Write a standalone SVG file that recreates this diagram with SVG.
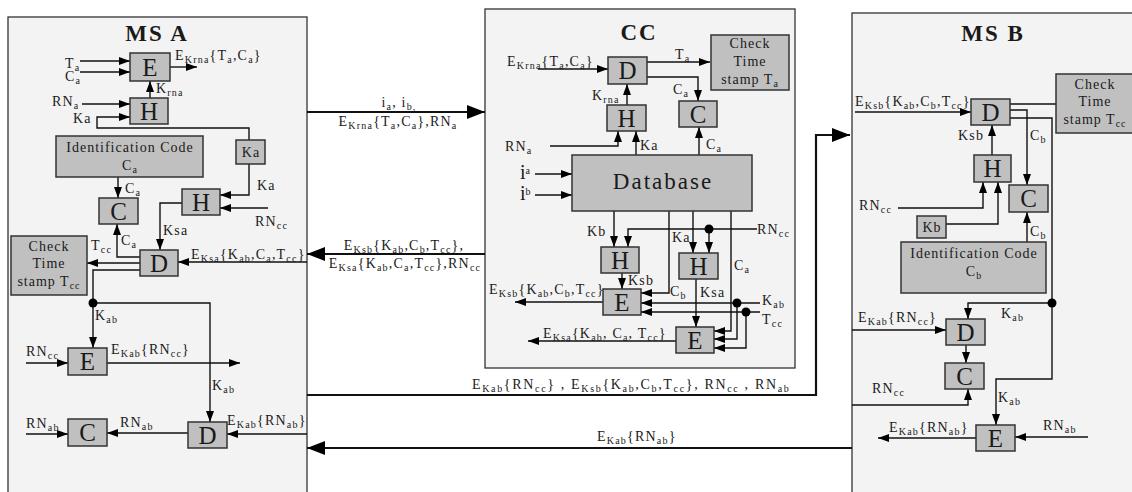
<svg xmlns="http://www.w3.org/2000/svg" width="1132" height="492" viewBox="0 0 1132 492">
<style>
text{font-family:"Liberation Serif","Times New Roman",serif;fill:#1a1a1a}
.l{font-size:14px;letter-spacing:1.2px}
.s{font-size:10px}
.bx{fill:#c0c0c0;stroke:#333;stroke-width:1.5}
.pn{fill:#f3f3f3;stroke:#333;stroke-width:1.3}
.big{font-size:25px;text-anchor:middle}
.ttl{font-size:23px;font-weight:bold;text-anchor:middle;letter-spacing:2px}
.bl{font-size:14px;letter-spacing:1px;text-anchor:middle}
.c{fill:none;stroke:#111;stroke-width:1.4}
.ca{fill:none;stroke:#111;stroke-width:1.4;marker-end:url(#ah)}
.m{fill:none;stroke:#111;stroke-width:2.2;marker-end:url(#bh)}
.mid{text-anchor:middle}
.dot{fill:#000}
</style>
<defs>
<marker id="ah" viewBox="0 0 11 8" refX="11" refY="4" markerWidth="11" markerHeight="8" markerUnits="userSpaceOnUse" orient="auto"><path d="M0,0 L11,4 L0,8z" fill="#000"/></marker>
<marker id="bh" viewBox="0 0 18 14" refX="18" refY="7" markerWidth="18" markerHeight="14" markerUnits="userSpaceOnUse" orient="auto"><path d="M0,0 L18,7 L0,14z" fill="#000"/></marker>
</defs>
<rect width="1132" height="492" fill="#fff"/>

<g id="panels">
<rect class="pn" x="8" y="17" width="299" height="490"/>
<rect class="pn" x="485" y="9" width="310" height="359"/>
<rect class="pn" x="852" y="13" width="300" height="490"/>
<text class="ttl" x="157" y="41">MS A</text>
<text class="ttl" x="639" y="40">CC</text>
<text class="ttl" x="993" y="41">MS B</text>
</g>

<g id="connectors">
<!-- MS A -->
<path class="ca" d="M80,61 H130"/>
<path class="ca" d="M80,72 H130"/>
<path class="ca" d="M170,67 H197"/>
<path class="ca" d="M150,98 V81"/>
<path class="ca" d="M82,104 H130"/>
<path class="ca" d="M249,140 V128 H97 V117 H130"/>
<path class="ca" d="M118,177 V198"/>
<path class="ca" d="M249,164 V195 H220"/>
<path class="ca" d="M268,208 H220"/>
<path class="ca" d="M182,203 H160 V250"/>
<path class="ca" d="M140,257 H117 V224"/>
<path class="ca" d="M140,263 H87"/>
<path class="ca" d="M307,262 H178"/>
<path class="ca" d="M140,270 H93 V348"/>
<path class="ca" d="M93,303 H210 V422"/>
<circle class="dot" cx="93" cy="303" r="4.5"/>
<path class="ca" d="M26,363 H68"/>
<path class="ca" d="M107,363 H240"/>
<path class="ca" d="M307,434 H227"/>
<path class="ca" d="M188,433 H107"/>
<path class="ca" d="M26,434 H68"/>
<!-- inter-panel -->
<path class="m" d="M307,112 H485"/>
<path class="m" d="M485,254 H307"/>
<path class="m" d="M307,395 H816 V135 H850"/>
<path class="m" d="M852,448 H307"/>
<!-- CC -->
<path class="ca" d="M538,69 H608"/>
<path class="ca" d="M647,62 H710"/>
<path class="ca" d="M647,77 H698 V101"/>
<path class="ca" d="M627,105 V84"/>
<path class="ca" d="M550,146 H618 V131"/>
<path class="ca" d="M636,155 V131"/>
<path class="ca" d="M699,155 V127"/>
<path class="ca" d="M535,174 H572"/>
<path class="ca" d="M535,195 H572"/>
<path class="ca" d="M614,211 V247"/>
<path class="ca" d="M757,229 H628 V247"/>
<path class="ca" d="M709,229 V253"/>
<circle class="dot" cx="709" cy="229" r="4.5"/>
<path class="ca" d="M669,211 V293 H641"/>
<path class="ca" d="M693,211 V253"/>
<path class="ca" d="M622,273 V289"/>
<path class="ca" d="M603,302 H515"/>
<path class="ca" d="M760,303 H641"/>
<path class="ca" d="M760,312 H641"/>
<path class="ca" d="M696,279 V327"/>
<path class="ca" d="M731,211 V331 H714"/>
<path class="ca" d="M737,303 V339 H714"/>
<path class="ca" d="M746,312 V348 H714"/>
<circle class="dot" cx="737" cy="303" r="4.5"/>
<circle class="dot" cx="746" cy="312" r="4.5"/>
<path class="ca" d="M676,341 H528"/>
<!-- MS B -->
<path class="ca" d="M855,112 H971"/>
<path class="c" d="M1010,104 H1056"/>
<path class="ca" d="M1010,110 H1027 V185"/>
<path class="ca" d="M1010,118 H1052 V379 H996 V425"/>
<path class="ca" d="M1052,303 H968 V319"/>
<circle class="dot" cx="1052" cy="303" r="4.5"/>
<path class="ca" d="M992,155 V125"/>
<path class="ca" d="M898,208 H983 V182"/>
<path class="ca" d="M946,224 H998 V182"/>
<path class="ca" d="M1027,242 V212"/>
<path class="ca" d="M852,330 H946"/>
<path class="ca" d="M966,345 V363"/>
<path class="ca" d="M852,405 H968 V389"/>
<path class="ca" d="M976,438 H878"/>
<path class="ca" d="M1088,437 H1015"/>
</g>

<!-- MS A nodes -->
<g id="A_E1"><rect class="bx" x="130" y="53" width="40" height="28"/><text class="big" x="150" y="76">E</text></g>
<g id="A_H1"><rect class="bx" x="130" y="98" width="38" height="26"/><text class="big" x="149" y="120">H</text></g>
<g id="A_Ka"><rect class="bx" x="236" y="140" width="29" height="24"/><text class="bl" x="251" y="157">Ka</text></g>
<g id="A_ID"><rect class="bx" x="56" y="136" width="147" height="41"/><text class="bl" x="130" y="152">Identification Code</text><text class="bl" x="130" y="170">C<tspan class="s" dy="3">a</tspan></text></g>
<g id="A_C1"><rect class="bx" x="99" y="198" width="39" height="26"/><text class="big" x="118.5" y="220">C</text></g>
<g id="A_H2"><rect class="bx" x="182" y="189" width="38" height="26"/><text class="big" x="201" y="211">H</text></g>
<g id="A_D1"><rect class="bx" x="140" y="250" width="38" height="26"/><text class="big" x="159" y="272">D</text></g>
<g id="A_Check"><rect class="bx" x="11" y="236" width="76" height="59"/><text class="bl" x="49" y="251">Check</text><text class="bl" x="49" y="268">Time</text><text class="bl" x="49" y="286">stamp T<tspan class="s" dy="3">cc</tspan></text></g>
<g id="A_E2"><rect class="bx" x="68" y="348" width="39" height="27"/><text class="big" x="87.5" y="370">E</text></g>
<g id="A_D2"><rect class="bx" x="188" y="422" width="39" height="26"/><text class="big" x="207.5" y="444">D</text></g>
<g id="A_C2"><rect class="bx" x="68" y="419" width="39" height="27"/><text class="big" x="87.5" y="441">C</text></g>

<!-- CC nodes -->
<g id="CC_D"><rect class="bx" x="608" y="57" width="39" height="27"/><text class="big" x="627.5" y="79">D</text></g>
<g id="CC_Check"><rect class="bx" x="711" y="35" width="78" height="55"/><text class="bl" x="750" y="48">Check</text><text class="bl" x="750" y="66">Time</text><text class="bl" x="750" y="84">stamp T<tspan class="s" dy="3">a</tspan></text></g>
<g id="CC_C"><rect class="bx" x="679" y="101" width="38" height="26"/><text class="big" x="698" y="123">C</text></g>
<g id="CC_H"><rect class="bx" x="607" y="105" width="39" height="26"/><text class="big" x="626.5" y="127">H</text></g>
<g id="CC_DB"><rect class="bx" x="572" y="155" width="180" height="56"/><text x="663" y="189" style="font-size:23px;letter-spacing:2px;text-anchor:middle">Database</text></g>
<g id="CC_H1"><rect class="bx" x="601" y="247" width="38" height="26"/><text class="big" x="620" y="269">H</text></g>
<g id="CC_H2"><rect class="bx" x="679" y="253" width="39" height="26"/><text class="big" x="698.5" y="275">H</text></g>
<g id="CC_E1"><rect class="bx" x="603" y="289" width="38" height="26"/><text class="big" x="622" y="311">E</text></g>
<g id="CC_E2"><rect class="bx" x="676" y="327" width="38" height="26"/><text class="big" x="695" y="349">E</text></g>

<!-- MS B nodes -->
<g id="B_D1"><rect class="bx" x="971" y="99" width="39" height="26"/><text class="big" x="990.5" y="121">D</text></g>
<g id="B_Check"><rect class="bx" x="1056" y="74" width="80" height="59"/><text class="bl" x="1095" y="89">Check</text><text class="bl" x="1095" y="106">Time</text><text class="bl" x="1095" y="124">stamp T<tspan class="s" dy="3">cc</tspan></text></g>
<g id="B_H"><rect class="bx" x="974" y="155" width="37" height="27"/><text class="big" x="992.5" y="177">H</text></g>
<g id="B_C1"><rect class="bx" x="1009" y="185" width="39" height="27"/><text class="big" x="1028.5" y="207">C</text></g>
<g id="B_Kb"><rect class="bx" x="917" y="216" width="29" height="22"/><text class="bl" x="932" y="232">Kb</text></g>
<g id="B_ID"><rect class="bx" x="901" y="242" width="145" height="51"/><text class="bl" x="974" y="258">Identification Code</text><text class="bl" x="974" y="276">C<tspan class="s" dy="3">b</tspan></text></g>
<g id="B_D2"><rect class="bx" x="946" y="319" width="39" height="26"/><text class="big" x="965.5" y="341">D</text></g>
<g id="B_C2"><rect class="bx" x="945" y="363" width="39" height="26"/><text class="big" x="964.5" y="385">C</text></g>
<g id="B_E"><rect class="bx" x="976" y="425" width="39" height="26"/><text class="big" x="995.5" y="447">E</text></g>

<g id="labels">
<!-- MS A -->
<text class="l" x="65" y="68">T<tspan class="s" dy="3">a</tspan></text>
<text class="l" x="65" y="81">C<tspan class="s" dy="3">a</tspan></text>
<text class="l" x="175" y="60">E<tspan class="s" dy="3">Krna</tspan><tspan dy="-3">{T</tspan><tspan class="s" dy="3">a</tspan><tspan dy="-3">,C</tspan><tspan class="s" dy="3">a</tspan><tspan dy="-3">}</tspan></text>
<text class="l" x="156" y="93">K<tspan class="s" dy="3">rna</tspan></text>
<text class="l" x="52" y="106">RN<tspan class="s" dy="3">a</tspan></text>
<text class="l" x="73" y="123">Ka</text>
<text class="l" x="125" y="193">C<tspan class="s" dy="3">a</tspan></text>
<text class="l" x="257" y="190">Ka</text>
<text class="l" x="255" y="226">RN<tspan class="s" dy="3">cc</tspan></text>
<text class="l" x="163" y="235">Ksa</text>
<text class="l" x="121" y="245">C<tspan class="s" dy="3">a</tspan></text>
<text class="l" x="91" y="250">T<tspan class="s" dy="3">cc</tspan></text>
<text class="l" x="191" y="259">E<tspan class="s" dy="3">Ksa</tspan><tspan dy="-3">{K</tspan><tspan class="s" dy="3">ab</tspan><tspan dy="-3">,C</tspan><tspan class="s" dy="3">a</tspan><tspan dy="-3">,T</tspan><tspan class="s" dy="3">cc</tspan><tspan dy="-3">}</tspan></text>
<text class="l" x="95" y="320">K<tspan class="s" dy="3">ab</tspan></text>
<text class="l" x="26" y="356">RN<tspan class="s" dy="3">cc</tspan></text>
<text class="l" x="111" y="354">E<tspan class="s" dy="3">Kab</tspan><tspan dy="-3">{RN</tspan><tspan class="s" dy="3">cc</tspan><tspan dy="-3">}</tspan></text>
<text class="l" x="212" y="390">K<tspan class="s" dy="3">ab</tspan></text>
<text class="l" x="26" y="428">RN<tspan class="s" dy="3">ab</tspan></text>
<text class="l" x="120" y="427">RN<tspan class="s" dy="3">ab</tspan></text>
<text class="l" x="227" y="425">E<tspan class="s" dy="3">Kab</tspan><tspan dy="-3">{RN</tspan><tspan class="s" dy="3">ab</tspan><tspan dy="-3">}</tspan></text>
<!-- inter-panel -->
<text class="l mid" x="399" y="107">i<tspan class="s" dy="3">a</tspan><tspan dy="-3">, i</tspan><tspan class="s" dy="3">b,</tspan></text>
<text class="l mid" x="398" y="126">E<tspan class="s" dy="3">Krna</tspan><tspan dy="-3">{T</tspan><tspan class="s" dy="3">a</tspan><tspan dy="-3">,C</tspan><tspan class="s" dy="3">a</tspan><tspan dy="-3">},RN</tspan><tspan class="s" dy="3">a</tspan></text>
<text class="l mid" x="404" y="250">E<tspan class="s" dy="3">Ksb</tspan><tspan dy="-3">{K</tspan><tspan class="s" dy="3">ab</tspan><tspan dy="-3">,C</tspan><tspan class="s" dy="3">b</tspan><tspan dy="-3">,T</tspan><tspan class="s" dy="3">cc</tspan><tspan dy="-3">},</tspan></text>
<text class="l mid" x="405" y="268">E<tspan class="s" dy="3">Ksa</tspan><tspan dy="-3">{K</tspan><tspan class="s" dy="3">ab</tspan><tspan dy="-3">,C</tspan><tspan class="s" dy="3">a</tspan><tspan dy="-3">,T</tspan><tspan class="s" dy="3">cc</tspan><tspan dy="-3">},RN</tspan><tspan class="s" dy="3">cc</tspan></text>
<text class="l" x="472" y="389" textLength="318" lengthAdjust="spacing">E<tspan class="s" dy="3">Kab</tspan><tspan dy="-3">{RN</tspan><tspan class="s" dy="3">cc</tspan><tspan dy="-3">} , E</tspan><tspan class="s" dy="3">Ksb</tspan><tspan dy="-3">{K</tspan><tspan class="s" dy="3">ab</tspan><tspan dy="-3">,C</tspan><tspan class="s" dy="3">b</tspan><tspan dy="-3">,T</tspan><tspan class="s" dy="3">cc</tspan><tspan dy="-3">}, RN</tspan><tspan class="s" dy="3">cc</tspan><tspan dy="-3"> ,  RN</tspan><tspan class="s" dy="3">ab</tspan></text>
<text class="l" x="597" y="441">E<tspan class="s" dy="3">Kab</tspan><tspan dy="-3">{RN</tspan><tspan class="s" dy="3">ab</tspan><tspan dy="-3">}</tspan></text>
<!-- CC -->
<text class="l" x="507" y="66">E<tspan class="s" dy="3">Krna</tspan><tspan dy="-3">{T</tspan><tspan class="s" dy="3">a</tspan><tspan dy="-3">,C</tspan><tspan class="s" dy="3">a</tspan><tspan dy="-3">}</tspan></text>
<text class="l" x="675" y="59">T<tspan class="s" dy="3">a</tspan></text>
<text class="l" x="673" y="94">C<tspan class="s" dy="3">a</tspan></text>
<text class="l" x="592" y="100">K<tspan class="s" dy="3">rna</tspan></text>
<text class="l" x="505" y="151">RN<tspan class="s" dy="3">a</tspan></text>
<text class="l" x="640" y="150">Ka</text>
<text class="l" x="706" y="149">C<tspan class="s" dy="3">a</tspan></text>
<text x="520" y="179" style="font-size:20px">i<tspan style="font-size:10px" dy="-5">a</tspan></text>
<text x="520" y="200" style="font-size:20px">i<tspan style="font-size:10px" dy="-5">b</tspan></text>
<text class="l" x="587" y="236">Kb</text>
<text class="l" x="757" y="234">RN<tspan class="s" dy="3">cc</tspan></text>
<text class="l" x="672" y="242">Ka</text>
<text class="l" x="734" y="270">C<tspan class="s" dy="3">a</tspan></text>
<text class="l" x="628" y="285">Ksb</text>
<text class="l" x="670" y="296">C<tspan class="s" dy="3">b</tspan></text>
<text class="l" x="700" y="297">Ksa</text>
<text class="l" x="762" y="305">K<tspan class="s" dy="3">ab</tspan></text>
<text class="l" x="762" y="324">T<tspan class="s" dy="3">cc</tspan></text>
<text class="l" x="489" y="294">E<tspan class="s" dy="3">Ksb</tspan><tspan dy="-3">{K</tspan><tspan class="s" dy="3">ab</tspan><tspan dy="-3">,C</tspan><tspan class="s" dy="3">b</tspan><tspan dy="-3">,T</tspan><tspan class="s" dy="3">cc</tspan><tspan dy="-3">}</tspan></text>
<text class="l" x="543" y="338">E<tspan class="s" dy="3">Ksa</tspan><tspan dy="-3">{K</tspan><tspan class="s" dy="3">ab</tspan><tspan dy="-3">, C</tspan><tspan class="s" dy="3">a</tspan><tspan dy="-3">, T</tspan><tspan class="s" dy="3">cc</tspan><tspan dy="-3">}</tspan></text>
<!-- MS B -->
<text class="l" x="855" y="106">E<tspan class="s" dy="3">Ksb</tspan><tspan dy="-3">{K</tspan><tspan class="s" dy="3">ab</tspan><tspan dy="-3">,C</tspan><tspan class="s" dy="3">b</tspan><tspan dy="-3">,T</tspan><tspan class="s" dy="3">cc</tspan><tspan dy="-3">}</tspan></text>
<text class="l" x="958" y="140">Ksb</text>
<text class="l" x="1030" y="140">C<tspan class="s" dy="3">b</tspan></text>
<text class="l" x="859" y="210">RN<tspan class="s" dy="3">cc</tspan></text>
<text class="l" x="1030" y="236">C<tspan class="s" dy="3">b</tspan></text>
<text class="l" x="1001" y="318">K<tspan class="s" dy="3">ab</tspan></text>
<text class="l" x="858" y="322">E<tspan class="s" dy="3">Kab</tspan><tspan dy="-3">{RN</tspan><tspan class="s" dy="3">cc</tspan><tspan dy="-3">}</tspan></text>
<text class="l" x="872" y="393">RN<tspan class="s" dy="3">cc</tspan></text>
<text class="l" x="998" y="402">K<tspan class="s" dy="3">ab</tspan></text>
<text class="l" x="889" y="432">E<tspan class="s" dy="3">Kab</tspan><tspan dy="-3">{RN</tspan><tspan class="s" dy="3">ab</tspan><tspan dy="-3">}</tspan></text>
<text class="l" x="1043" y="430">RN<tspan class="s" dy="3">ab</tspan></text>
</g>
</svg>
